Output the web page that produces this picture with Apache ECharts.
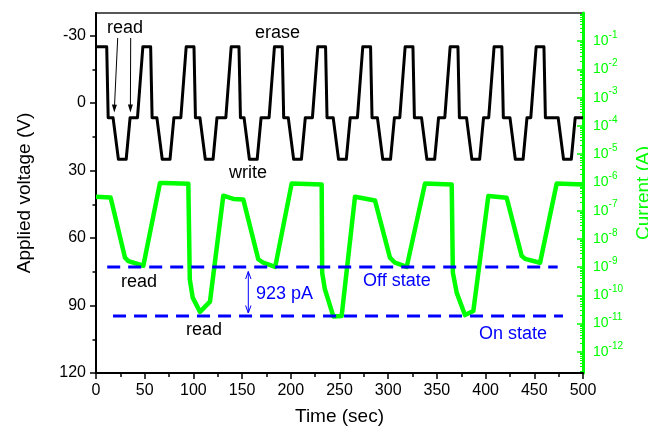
<!DOCTYPE html>
<html>
<head>
<meta charset="utf-8">
<script src="https://cdn.jsdelivr.net/npm/echarts@6/dist/echarts.min.js"></script>
<style>
  html, body { margin: 0; padding: 0; background: #fff; }
  #chart { width: 648px; height: 430px; }
</style>
</head>
<body>
<div id="chart"></div>
<script>
// voltage waveform (black), time in sec / applied voltage in V (axis is inverted)
const voltTime = [
  0, 11, 12.5, 17.5, 23, 31, 35, 42.6, 48.1,
  56.1, 57.6, 62.5, 68, 76, 80, 87.1, 92.6,
  100.6, 102.1, 106.7, 112.2, 120.2, 124.2, 133.3, 138.8,
  146.8, 148.3, 152, 157.5, 165.5, 169.5, 177.7, 183.2,
  191.2, 192.7, 197.4, 202.9, 210.9, 214.9, 222.2, 227.7,
  235.7, 237.2, 243.5, 249, 257, 261, 268.4, 273.9,
  281.9, 283.4, 288.9, 294.4, 302.4, 306.4, 311.9, 317.4,
  325.4, 326.9, 334.2, 339.7, 347.7, 351.7, 358.1, 363.6,
  371.6, 373.1, 380.4, 385.9, 393.9, 397.9, 403.2, 408.7,
  416.7, 418.2, 425, 430.5, 438.5, 442.5, 446.4, 451.9,
  459.9, 461.4, 474.5, 480, 488, 492, 500
]
const voltValue = [
  -25, -25, 6.5, 6.5, 25, 25, 6.5, 6.5, -25,
  -25, 6.5, 6.5, 25, 25, 6.5, 6.5, -25,
  -25, 6.5, 6.5, 25, 25, 6.5, 6.5, -25,
  -25, 6.5, 6.5, 25, 25, 6.5, 6.5, -25,
  -25, 6.5, 6.5, 25, 25, 6.5, 6.5, -25,
  -25, 6.5, 6.5, 25, 25, 6.5, 6.5, -25,
  -25, 6.5, 6.5, 25, 25, 6.5, 6.5, -25,
  -25, 6.5, 6.5, 25, 25, 6.5, 6.5, -25,
  -25, 6.5, 6.5, 25, 25, 6.5, 6.5, -25,
  -25, 6.5, 6.5, 25, 25, 6.5, 6.5, -25,
  -25, 6.5, 6.5, 25, 25, 6.5, 6.5
]

// current (green), time in sec / current in A
const currTime = [
  0, 15, 29.8, 33.2, 48.6,
  65.7, 69.8, 94.8, 96.3, 99.3, 106.8, 117,
  130.7, 141, 151.2, 166.6, 171.8, 184,
  200.9, 231.7, 232.2, 235, 243.7, 252.2,
  265.9, 286.4, 301.8, 307, 319,
  337.8, 365.2, 366.4, 370.3, 378.8, 387.4,
  402.8, 421.6, 437, 440.5, 455.9,
  473, 500
]
const currValue = [
  3.1e-7, 2.9e-7, 2.16e-9, 1.64e-9, 1.12e-9,
  9.6e-7, 9.6e-7, 9.0e-7, 3.7e-10, 8.3e-11, 2.6e-11, 6.0e-11,
  3.4e-7, 2.6e-7, 2.5e-7, 1.9e-9, 1.43e-9, 1.02e-9,
  9.2e-7, 8.4e-7, 6.4e-10, 1.64e-10, 1.8e-11, 1.85e-11,
  3.1e-7, 2.3e-7, 2.16e-9, 1.43e-9, 1.02e-9,
  9.2e-7, 8.4e-7, 6.4e-10, 1.25e-10, 2.0e-11, 2.8e-11,
  3.3e-7, 2.85e-7, 2.5e-9, 1.97e-9, 1.43e-9,
  9.2e-7, 8.4e-7
]

// off / on state reference levels (dashed blue)
const offStateTime = [11.5, 474]
const offStateValue = [1e-9, 1e-9]
const onStateTime = [17.5, 479.5]
const onStateValue = [1.85e-11, 1.85e-11]

// tick labels
const voltTicks = [-30, 0, 30, 60, 90, 120]
const voltMinorTicks = [-15, 15, 45, 75, 105]
const currExpTicks = [-1, -2, -3, -4, -5, -6, -7, -8, -9, -10, -11, -12]

const FONT = 'Liberation Sans, Arial, sans-serif'
const GREEN = '#00ff00'
const BLUE = '#0000ff'

// minor ticks of log axis: 2..9 x 10^n
const currMinorTicks = []
for (let n = -13; n < 0; n++) {
  for (let k = 2; k <= 9; k++) {
    const v = n + Math.log10(k)
    if (v > -12.75 && v < 0) currMinorTicks.push(v)
  }
}

const toPairs = (xs, ys, f) => xs.map((x, i) => [x, f ? f(ys[i]) : ys[i]])

const chart = echarts.init(document.getElementById('chart'))

chart.setOption({
  animation: false,
  backgroundColor: '#fff',
  textStyle: { fontFamily: FONT },
  grid: {
    left: 96,
    right: 65,
    top: 13,
    bottom: 57,
    show: true, // frame (top edge)
    borderColor: '#222',
    borderWidth: 1.5,
    backgroundColor: 'transparent',
    containLabel: false,
    outerBoundsMode: 'none'
  },
  xAxis: [{
    type: 'value',
    min: 0,
    max: 500,
    interval: 50,
    position: 'bottom',
    name: 'Time (sec)',
    nameLocation: 'middle',
    nameGap: 34,
    nameTextStyle: { fontSize: 19, color: '#000', fontFamily: FONT },
    axisLine: { onZero: false, lineStyle: { color: '#000', width: 2 } },
    axisTick: { length: 6, lineStyle: { color: '#000', width: 1.5 } },
    minorTick: { show: true, splitNumber: 2, length: 4, lineStyle: { color: '#000', width: 1.5 } },
    axisLabel: { fontSize: 16, color: '#000', margin: 10, fontFamily: FONT },
    splitLine: { show: false }
  }],
  yAxis: [{
    type: 'value',
    min: -40,
    max: 120,
    inverse: true,
    position: 'left',
    name: 'Applied voltage (V)',
    nameLocation: 'middle',
    nameRotate: 90,
    nameGap: 62,
    nameTextStyle: { fontSize: 19, color: '#000', fontFamily: FONT },
    axisLine: { onZero: false, lineStyle: { color: '#000', width: 2 } },
    axisTick: { length: 6, customValues: voltTicks, lineStyle: { color: '#000', width: 1.5 } },
    axisLabel: { fontSize: 16, color: '#000', margin: 10, customValues: voltTicks, fontFamily: FONT },
    splitLine: { show: false }
  }, {
    // minor ticks for the voltage axis
    type: 'value',
    min: -40,
    max: 120,
    inverse: true,
    position: 'left',
    axisLine: { show: false, onZero: false },
    axisTick: { length: 3.5, customValues: voltMinorTicks, lineStyle: { color: '#000', width: 1.5 } },
    axisLabel: { show: false },
    splitLine: { show: false }
  }, {
    // current axis, in decades
    type: 'value',
    min: -12.75,
    max: 0,
    position: 'right',
    name: 'Current (A)',
    nameLocation: 'middle',
    nameRotate: 90,
    nameGap: 41,
    nameTextStyle: { fontSize: 19, color: GREEN, fontFamily: FONT },
    axisLine: { onZero: false, lineStyle: { color: GREEN, width: 3 } },
    axisTick: { inside: true, length: 6, customValues: currExpTicks, lineStyle: { color: GREEN, width: 1.5 } },
    axisLabel: {
      margin: 10,
      customValues: currExpTicks,
      formatter: v => '{b|10}{s|' + v + '}',
      rich: {
        b: { fontSize: 14, color: GREEN, lineHeight: 22, fontFamily: FONT },
        s: { fontSize: 10, color: GREEN, lineHeight: 11, verticalAlign: 'top', fontFamily: FONT }
      }
    },
    splitLine: { show: false }
  }, {
    // minor ticks for the current axis
    type: 'value',
    min: -12.75,
    max: 0,
    position: 'right',
    axisLine: { show: false, onZero: false },
    axisTick: { inside: true, length: 3, customValues: currMinorTicks, lineStyle: { color: GREEN, width: 1 } },
    axisLabel: { show: false },
    splitLine: { show: false }
  }],
  series: [{
    name: 'current',
    type: 'line',
    xAxisIndex: 0,
    yAxisIndex: 2,
    showSymbol: false,
    lineStyle: { color: GREEN, width: 4.5, join: 'round' },
    data: toPairs(currTime, currValue, Math.log10),
    z: 2
  }, {
    name: 'voltage',
    type: 'line',
    xAxisIndex: 0,
    yAxisIndex: 0,
    showSymbol: false,
    lineStyle: { color: '#000', width: 3, join: 'round' },
    data: toPairs(voltTime, voltValue),
    z: 3
  }, {
    name: 'off state',
    type: 'line',
    xAxisIndex: 0,
    yAxisIndex: 2,
    showSymbol: false,
    lineStyle: { color: BLUE, width: 3, type: [13, 8] },
    data: toPairs(offStateTime, offStateValue, Math.log10),
    z: 4
  }, {
    name: 'on state',
    type: 'line',
    xAxisIndex: 0,
    yAxisIndex: 2,
    showSymbol: false,
    lineStyle: { color: BLUE, width: 3, type: [13, 8] },
    data: toPairs(onStateTime, onStateValue, Math.log10),
    z: 4
  }],
  // annotations
  graphic: [
    { type: 'text', left: 107, top: 19, style: { text: 'read', fontSize: 18, fill: '#000', fontFamily: FONT } },
    { type: 'text', left: 255, top: 24, style: { text: 'erase', fontSize: 18, fill: '#000', fontFamily: FONT } },
    { type: 'text', left: 229, top: 164, style: { text: 'write', fontSize: 18, fill: '#000', fontFamily: FONT } },
    { type: 'text', left: 121, top: 273, style: { text: 'read', fontSize: 18, fill: '#000', fontFamily: FONT } },
    { type: 'text', left: 186, top: 321, style: { text: 'read', fontSize: 18, fill: '#000', fontFamily: FONT } },
    { type: 'text', left: 256, top: 285, style: { text: '923 pA', fontSize: 18, fill: BLUE, fontFamily: FONT } },
    { type: 'text', left: 363, top: 272, style: { text: 'Off state', fontSize: 18, fill: BLUE, fontFamily: FONT } },
    { type: 'text', left: 479, top: 325, style: { text: 'On state', fontSize: 18, fill: BLUE, fontFamily: FONT } },
    // read arrows
    { type: 'line', shape: { x1: 117.7, y1: 38, x2: 114.5, y2: 106 }, style: { stroke: '#000', lineWidth: 1 }, z: 10 },
    { type: 'polygon', shape: { points: [[114.3, 112.5], [111.9, 104.5], [116.9, 104.7]] }, style: { fill: '#000' }, z: 10 },
    { type: 'line', shape: { x1: 130.7, y1: 38, x2: 130.4, y2: 106 }, style: { stroke: '#000', lineWidth: 1 }, z: 10 },
    { type: 'polygon', shape: { points: [[130.4, 112.5], [127.9, 104.6], [132.9, 104.6]] }, style: { fill: '#000' }, z: 10 },
    // 923 pA double arrow
    { type: 'line', shape: { x1: 248.3, y1: 271.5, x2: 248.3, y2: 313 }, style: { stroke: BLUE, lineWidth: 1 }, z: 10 },
    { type: 'polyline', shape: { points: [[245.6, 279], [248.3, 271.5], [251, 279]] }, style: { stroke: BLUE, lineWidth: 1, fill: null }, z: 10 },
    { type: 'polyline', shape: { points: [[245.6, 305.5], [248.3, 313], [251, 305.5]] }, style: { stroke: BLUE, lineWidth: 1, fill: null }, z: 10 }
  ]
})
</script>
</body>
</html>
